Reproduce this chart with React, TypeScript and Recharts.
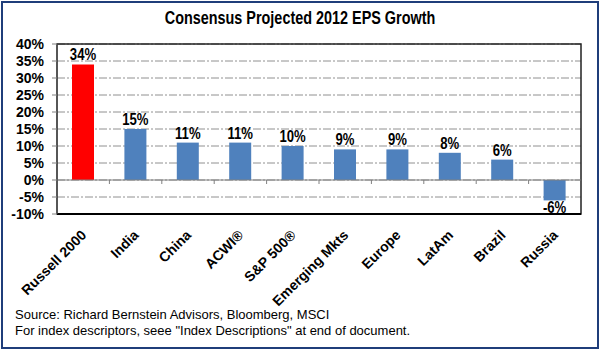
import React from "react";
import {
  BarChart,
  Bar,
  XAxis,
  YAxis,
  CartesianGrid,
  Cell,
  LabelList,
  ReferenceLine,
  ReferenceArea,
} from "recharts";

const categories = [
  "Russell 2000",
  "India",
  "China",
  "ACWI®",
  "S&P 500®",
  "Emerging Mkts",
  "Europe",
  "LatAm",
  "Brazil",
  "Russia",
];
const growth = [34, 15, 11, 11, 10, 9, 9, 8, 6, -6];
const barColors = [
  "#FF0000",
  "#4F81BD",
  "#4F81BD",
  "#4F81BD",
  "#4F81BD",
  "#4F81BD",
  "#4F81BD",
  "#4F81BD",
  "#4F81BD",
  "#4F81BD",
];
const yTicks = [-10, -5, 0, 5, 10, 15, 20, 25, 30, 35, 40];
const title = "Consensus Projected 2012 EPS Growth";
const footnotes = [
  "Source: Richard Bernstein Advisors, Bloomberg, MSCI",
  'For index descriptors, seee "Index Descriptions" at end of document.',
];

const data = categories.map((name, i) => ({ name, value: growth[i] }));

const SANS = "'Liberation Sans', Arial, sans-serif";

const XTick = (props: any) => {
  const { x, y, payload } = props;
  return (
    <g transform={`translate(${x + 4},${y + 14})`}>
      <text
        x={0}
        y={0}
        textAnchor="end"
        transform="rotate(-45)"
        fontFamily={SANS}
        fontWeight="bold"
        fontSize={14}
        fill="#000"
      >
        {payload.value}
      </text>
    </g>
  );
};

const ZeroLine = (props: any) => {
  const { x1, y1, x2, y2 } = props;
  const n = categories.length;
  const step = (x2 - x1) / n;
  const ticks = [];
  for (let i = 1; i < n; i++) {
    const tx = x1 + step * i;
    ticks.push(
      <line key={i} x1={tx} y1={y1} x2={tx} y2={y1 + 4} stroke="#808080" strokeWidth={1} />
    );
  }
  return (
    <g>
      <line x1={x1} y1={y1} x2={x2} y2={y2} stroke="#808080" strokeWidth={1} />
      {ticks}
    </g>
  );
};

const ValueLabel = (props: any) => {
  const { x, y, width, height, value } = props;
  const top = Math.min(y, y + height);
  const bottom = Math.max(y, y + height);
  const cx = x + width / 2;
  const ty = value >= 0 ? top - 4 : bottom + 13;
  return (
    <g transform={`translate(${cx},${ty}) scale(0.82,1)`}>
      <text
        x={0}
        y={0}
        textAnchor="middle"
        fontFamily={SANS}
        fontWeight="bold"
        fontSize={16}
        fill="#000"
      >
        {`${value}%`}
      </text>
    </g>
  );
};

export default function App() {
  return (
    <div
      style={{
        position: "absolute",
        left: 0,
        top: 0,
        width: 600,
        height: 350,
        background: "#fff",
      }}
    >
      <div
        style={{
          position: "absolute",
          left: 1,
          top: 1,
          width: 598,
          height: 348,
          boxSizing: "border-box",
          border: "2px solid #1F3D7A",
        }}
      />
      <div
        style={{
          position: "absolute",
          left: 0,
          top: 8,
          width: 600,
          textAlign: "center",
          fontFamily: SANS,
          fontWeight: "bold",
          fontSize: 18,
          lineHeight: "20px",
          color: "#000",
          transform: "scaleX(0.8)",
          transformOrigin: "300px 0",
        }}
      >
        {title}
      </div>
      <div style={{ position: "absolute", left: 0, top: 0 }}>
        <BarChart
          width={600}
          height={350}
          data={data}
          margin={{ top: 44, right: 19, bottom: 0, left: 0 }}
        >
          <CartesianGrid
            vertical={false}
            stroke="#909090"
            strokeDasharray="8 2 2 2"
          />
          <ReferenceArea y1={-10} y2={40} fill="none" stroke="#222" strokeWidth={1.5} ifOverflow="extendDomain" />
          <XAxis
            dataKey="name"
            interval={0}
            height={136}
            tick={<XTick />}
            tickLine={false}
            axisLine={{ stroke: "#000", strokeWidth: 2 }}
          />
          <YAxis
            domain={[-10, 40]}
            ticks={yTicks}
            width={57}
            tickSize={5}
            tickMargin={8}
            tickFormatter={(v: number) => `${v}%`}
            tick={{ fontFamily: SANS, fontWeight: "bold", fontSize: 14, fill: "#000" }}
            tickLine={{ stroke: "#808080" }}
            axisLine={{ stroke: "#555" }}
            interval={0}
          />
          <ReferenceLine y={0} shape={<ZeroLine />} />
          <Bar dataKey="value" barSize={22} isAnimationActive={false}>
            {data.map((d, i) => (
              <Cell key={d.name} fill={barColors[i]} />
            ))}
            <LabelList dataKey="value" content={<ValueLabel />} />
          </Bar>
        </BarChart>
      </div>
      <div
        style={{
          position: "absolute",
          left: 15,
          top: 307,
          fontFamily: SANS,
          fontSize: 13,
          lineHeight: "16px",
          color: "#000",
          whiteSpace: "pre",
        }}
      >
        {footnotes[0]}
        <br />
        {footnotes[1]}
      </div>
    </div>
  );
}
